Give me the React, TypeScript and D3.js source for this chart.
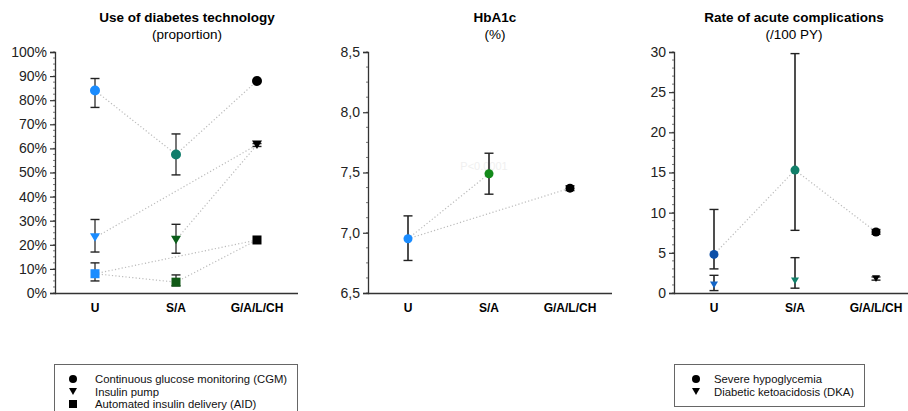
import React, { useEffect, useRef } from "react";
import * as d3 from "d3";

// categories (x)
const categories = ["U", "S/A", "G/A/L/CH"];

// panel 1 - use of diabetes technology (%)
const cgmValues = [84, 57.5, 88];
const cgmLow = [77, 49, null];
const cgmHigh = [89, 66, null];
const pumpValues = [23, 22, 61.5];
const pumpLow = [17, 16.5, 60.8];
const pumpHigh = [30.5, 28.5, 62];
const aidValues = [8, 4.5, 22];
const aidLow = [5, 3, null];
const aidHigh = [12.5, 7.5, null];
const techTicks = [0, 10, 20, 30, 40, 50, 60, 70, 80, 90, 100];

// panel 2 - HbA1c (%)
const hba1cValues = [6.95, 7.49, 7.37];
const hba1cLow = [6.77, 7.32, 7.35];
const hba1cHigh = [7.14, 7.66, 7.39];
const hba1cTicks = [6.5, 7.0, 7.5, 8.0, 8.5];

// panel 3 - acute complications (/100 PY)
const hypoValues = [4.8, 15.3, 7.6];
const hypoLow = [3.0, 7.8, 7.3];
const hypoHigh = [10.4, 29.8, 7.9];
const dkaValues = [1.0, 1.5, 1.8];
const dkaLow = [0.3, 0.6, 1.6];
const dkaHigh = [2.2, 4.4, 2.0];
const rateTicks = [0, 5, 10, 15, 20, 25, 30];

const FONT = "'Liberation Sans', Arial, sans-serif";

const drawMarker = (g, shape, x, y, color, size) => {
  if (shape === "circle") {
    g.append("circle").attr("cx", x).attr("cy", y).attr("r", size / 2).attr("fill", color);
  } else if (shape === "square") {
    g.append("rect")
      .attr("x", x - size / 2)
      .attr("y", y - size / 2)
      .attr("width", size)
      .attr("height", size)
      .attr("fill", color);
  } else {
    const h = size * 0.85;
    g.append("path")
      .attr("d", `M${x - size / 2},${y - h / 2}L${x + size / 2},${y - h / 2}L${x},${y + h / 2}Z`)
      .attr("fill", color);
  }
};

const drawPanel = (svg, opt) => {
  const x = d3.scalePoint().domain(categories).range([opt.x0 + 40, opt.x0 + 202]);
  const y = d3.scaleLinear().domain(opt.domain).range([293, 52]);

  const g = svg.append("g");

  // titles
  g.append("text")
    .attr("x", opt.titleX)
    .attr("y", 22)
    .attr("text-anchor", "middle")
    .style("font", `bold 13.5px ${FONT}`)
    .text(opt.title);
  g.append("text")
    .attr("x", opt.titleX)
    .attr("y", 39)
    .attr("text-anchor", "middle")
    .style("font", `13.5px ${FONT}`)
    .text(opt.subtitle);

  // minor ticks
  const [d0, d1] = opt.domain;
  const minors = d3.range(d0, d1 + 1e-9, opt.minorStep);
  g.selectAll(".minor")
    .data(minors)
    .enter()
    .append("line")
    .attr("x1", opt.x0 - 2)
    .attr("x2", opt.x0)
    .attr("y1", (d) => y(d))
    .attr("y2", (d) => y(d))
    .attr("stroke", "#555")
    .attr("stroke-width", 0.8);

  // y axis
  const yAxis = d3.axisLeft(y).tickValues(opt.ticks).tickSize(5).tickFormat(opt.fmt);
  const ya = g.append("g").attr("transform", `translate(${opt.x0},0)`).call(yAxis);
  ya.select(".domain").attr("stroke", "#333").attr("stroke-width", 1.3);
  ya.selectAll(".tick line").attr("stroke", "#333").attr("stroke-width", 1.2);
  ya.selectAll(".tick text")
    .attr("x", -8)
    .style("font", `14px ${FONT}`)
    .attr("fill", "#222");

  // x axis
  g.append("line")
    .attr("x1", opt.x0)
    .attr("x2", opt.xEnd)
    .attr("y1", 293.5)
    .attr("y2", 293.5)
    .attr("stroke", "#333")
    .attr("stroke-width", 1.3);
  g.selectAll(".cat")
    .data(categories)
    .enter()
    .append("text")
    .attr("x", (d) => x(d))
    .attr("y", 312)
    .attr("text-anchor", "middle")
    .style("font", `bold 12px ${FONT}`)
    .text((d) => d);

  // dotted connectors
  opt.series.forEach((s) => {
    s.links.forEach(([a, b]) => {
      g.append("line")
        .attr("x1", x(categories[a]))
        .attr("y1", y(s.values[a]))
        .attr("x2", x(categories[b]))
        .attr("y2", y(s.values[b]))
        .attr("stroke", "#bbb")
        .attr("stroke-width", 1.2)
        .attr("stroke-dasharray", "1.2,2.2");
    });
  });

  if (opt.note) {
    g.append("text")
      .attr("x", opt.note.x)
      .attr("y", opt.note.y)
      .attr("text-anchor", "middle")
      .style("font", `11px ${FONT}`)
      .attr("fill", "#f0f0f0")
      .text(opt.note.text);
  }

  // error bars + markers
  opt.series.forEach((s) => {
    s.values.forEach((v, i) => {
      const cx = x(categories[i]);
      if (s.low[i] != null) {
        g.append("line")
          .attr("x1", cx)
          .attr("x2", cx)
          .attr("y1", y(s.low[i]))
          .attr("y2", y(s.high[i]))
          .attr("stroke", opt.barColor)
          .attr("stroke-width", opt.barWidth);
        [s.low[i], s.high[i]].forEach((e) => {
          g.append("line")
            .attr("x1", cx - 4.5)
            .attr("x2", cx + 4.5)
            .attr("y1", y(e))
            .attr("y2", y(e))
            .attr("stroke", "#222")
            .attr("stroke-width", 1.4);
        });
      }
      drawMarker(g, s.shape, cx, y(v), s.colors[i], s.size);
    });
  });
};

const drawLegend = (svg, box, items) => {
  const g = svg.append("g");
  g.append("rect")
    .attr("x", box.x + 0.5)
    .attr("y", box.y + 0.5)
    .attr("width", box.w)
    .attr("height", box.h)
    .attr("fill", "white")
    .attr("stroke", "#666")
    .attr("stroke-width", 1);
  items.forEach((it, i) => {
    const cy = box.y + 15 + i * 12.5;
    drawMarker(g, it.shape, box.x + box.mx, cy, "black", 8);
    g.append("text")
      .attr("x", box.x + box.tx)
      .attr("y", cy + 4)
      .style("font", `11.3px ${FONT}`)
      .attr("fill", "#111")
      .text(it.label);
  });
};

const App = () => {
  const ref = useRef(null);

  useEffect(() => {
    const svg = d3.select(ref.current);
    svg.selectAll("*").remove();

    drawPanel(svg, {
      x0: 55,
      xEnd: 298,
      titleX: 187,
      title: "Use of diabetes technology",
      subtitle: "(proportion)",
      domain: [0, 100],
      ticks: techTicks,
      minorStep: 2.5,
      fmt: (d) => `${d}%`,
      barColor: "#777",
      barWidth: 2,
      series: [
        { values: cgmValues, low: cgmLow, high: cgmHigh, shape: "circle", size: 10,
          colors: ["#1a8cff", "#0f7d6b", "#000"], links: [[0, 1], [1, 2]] },
        { values: pumpValues, low: pumpLow, high: pumpHigh, shape: "triangle", size: 10,
          colors: ["#1a8cff", "#0b5e1a", "#000"], links: [[0, 2], [1, 2]] },
        { values: aidValues, low: aidLow, high: aidHigh, shape: "square", size: 9,
          colors: ["#1a8cff", "#115a17", "#000"], links: [[0, 2], [0, 1], [1, 2]] },
      ],
    });

    drawPanel(svg, {
      x0: 368,
      xEnd: 612,
      titleX: 495,
      title: "HbA1c",
      subtitle: "(%)",
      domain: [6.5, 8.5],
      ticks: hba1cTicks,
      minorStep: 0.125,
      fmt: (d) => d3.format(".1f")(d).replace(".", ","),
      barColor: "#222",
      barWidth: 1.6,
      note: { x: 484, y: 170, text: "P<0.0001" },
      series: [
        { values: hba1cValues, low: hba1cLow, high: hba1cHigh, shape: "circle", size: 9,
          colors: ["#1a8cff", "#138a1a", "#000"], links: [[0, 1], [0, 2]] },
      ],
    });

    drawPanel(svg, {
      x0: 674,
      xEnd: 908,
      titleX: 794,
      title: "Rate of acute complications",
      subtitle: "(/100 PY)",
      domain: [0, 30],
      ticks: rateTicks,
      minorStep: 1,
      fmt: (d) => `${d}`,
      barColor: "#222",
      barWidth: 1.6,
      series: [
        { values: hypoValues, low: hypoLow, high: hypoHigh, shape: "circle", size: 9,
          colors: ["#0d50a8", "#12806a", "#000"], links: [[0, 1], [1, 2]] },
        { values: dkaValues, low: dkaLow, high: dkaHigh, shape: "triangle", size: 8,
          colors: ["#1466c8", "#12806a", "#000"], links: [] },
      ],
    });

    drawLegend(svg, { x: 54, y: 364, w: 243, h: 52, mx: 19, tx: 41 }, [
      { shape: "circle", label: "Continuous glucose monitoring (CGM)" },
      { shape: "triangle", label: "Insulin pump" },
      { shape: "square", label: "Automated insulin delivery (AID)" },
    ]);
    drawLegend(svg, { x: 674, y: 364, w: 190, h: 42, mx: 22, tx: 40 }, [
      { shape: "circle", label: "Severe hypoglycemia" },
      { shape: "triangle", label: "Diabetic ketoacidosis (DKA)" },
    ]);
  }, []);

  return (
    <svg
      ref={ref}
      width={908}
      height={411}
      style={{ position: "absolute", left: 0, top: 0, background: "white" }}
    />
  );
};

export default App;
